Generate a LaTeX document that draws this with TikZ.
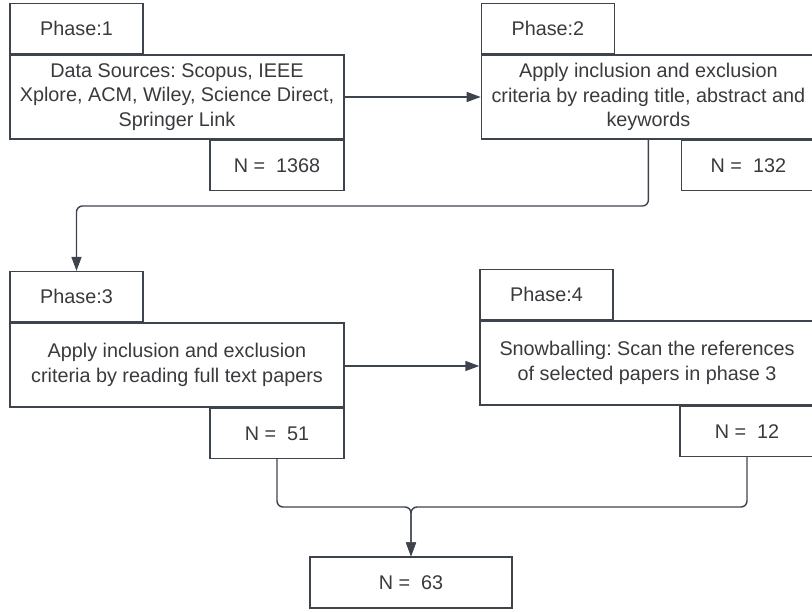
\documentclass[tikz,border=0pt]{standalone}
\usepackage{fontspec}
\setmainfont{Liberation Sans}
\usepackage{tikz}
\usetikzlibrary{calc, positioning, arrows.meta}
\frenchspacing
\definecolor{linecol}{RGB}{62,68,78}
\definecolor{textcol}{RGB}{58,58,62}
\tikzstyle{tab}    = [rectangle, minimum width=133pt, minimum height=50pt, inner sep=0pt, text centered, draw=linecol, line width=1.4pt, text=textcol, font=\fontsize{19.8}{24.5}\selectfont]
\tikzstyle{stage}  = [rectangle, minimum width=334pt, minimum height=84pt, inner sep=0pt, align=center, draw=linecol, line width=1.4pt, text=textcol, font=\fontsize{19.8}{24.5}\selectfont]
\tikzstyle{count}  = [rectangle, minimum width=134pt, minimum height=50pt, inner sep=0pt, text centered, draw=linecol, line width=1.4pt, text=textcol, font=\fontsize{19.8}{24.5}\selectfont]
\tikzstyle{arrow}  = [line width=1.4pt, draw=linecol, -{Triangle[length=14pt,width=10pt]}]

\begin{document}
\begin{tikzpicture}[x=1pt, y=-1pt]
    \clip (0,0) rectangle (812,612);

    % phase 1 and 2
    \node (src)  [stage] at (177,97) {Data Sources: Scopus, IEEE\\Xplore, ACM, Wiley, Science Direct,\\Springer Link};
    \node (ph1)  [tab, above right=0pt of src.north west]   {Phase:1};
    \node (n1)   [count, below left=0pt of src.south east]  {N = \ 1368};
    \node (scr)  [stage, right=136pt of src] {Apply inclusion and exclusion\\criteria by reading title, abstract and\\keywords};
    \node (ph2)  [tab, above right=0pt of scr.north west]   {Phase:2};
    \node (n2)   [count, below left=0pt of scr.south east]  {N = \ 132};

    % phase 3 and 4
    \node (full) [stage] at (177,365) {Apply inclusion and exclusion\\criteria by reading full text papers};
    \node (ph3)  [tab, above right=0pt of full.north west]  {Phase:3};
    \node (n3)   [count, below left=0pt of full.south east] {N = \ 51};
    \node (snow) [stage] at (647,363) {Snowballing: Scan the references\\of selected papers in phase 3};
    \node (ph4)  [tab, above right=0pt of snow.north west]  {Phase:4};
    \node (n4)   [count, below left=0pt of snow.south east] {N = \ 12};

    \node (tot)  [count, minimum width=202pt, minimum height=51pt] at (411,582.5) {N = \ 63};

    \coordinate (bend) at (0,206);
    \coordinate (join) at (tot.north |- 0,507);

    \draw [arrow] (src) -- (scr);
    \draw [arrow, rounded corners=6pt] (scr.south) -- (scr.south |- bend) -- (ph3.north |- bend) -- (ph3.north);
    \draw [arrow] (full.east |- 0,366) -- (snow.west |- 0,366);
    \draw [arrow, rounded corners=6pt] (n3.south) |- (join) -- (tot.north);
    \draw [arrow, rounded corners=6pt] (n4.south) |- (join) -- (tot.north);
\end{tikzpicture}
\end{document}
